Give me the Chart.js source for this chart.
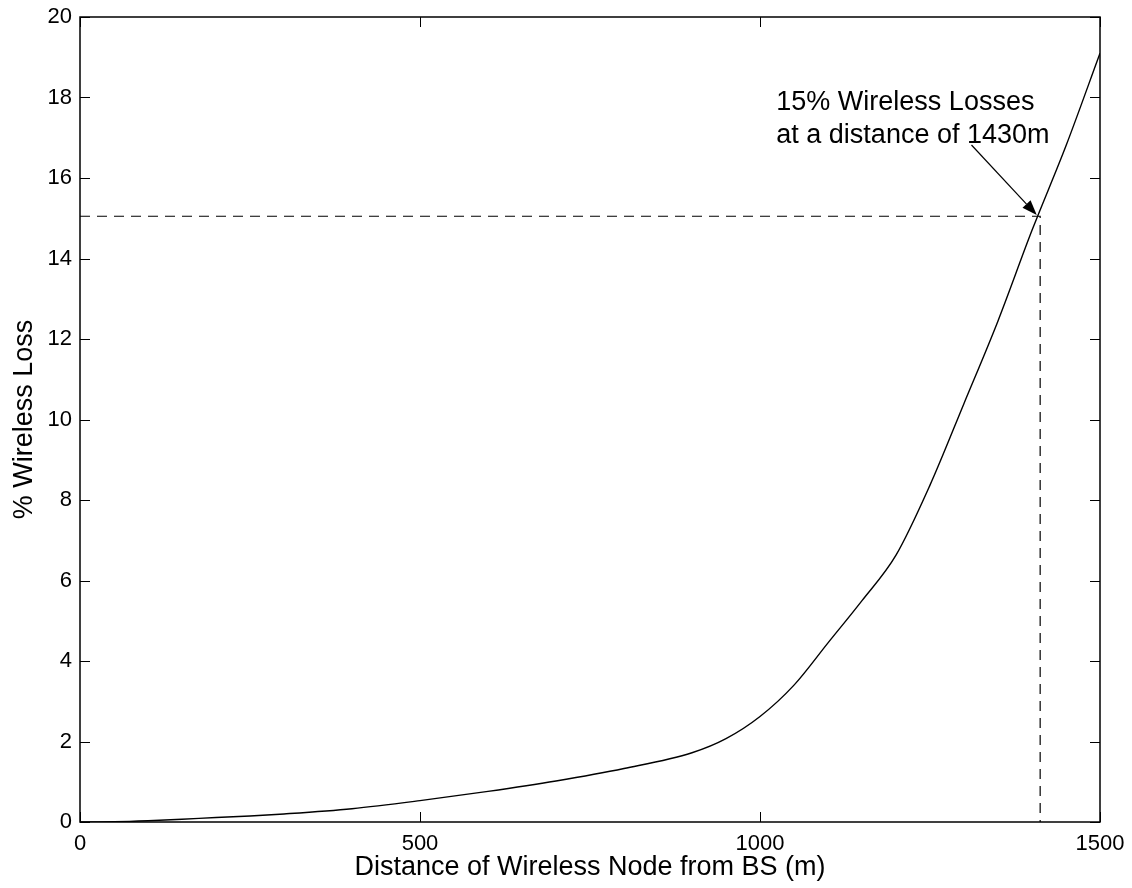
<!DOCTYPE html>
<html>
<head>
<meta charset="utf-8">
<script src="https://cdn.jsdelivr.net/npm/chart.js@4/dist/chart.umd.min.js"></script>
<style>
  html, body { margin: 0; padding: 0; background: #fff; }
  canvas { display: block; }
</style>
</head>
<body>
<canvas id="lossChart" width="1132" height="888"></canvas>
<script>
// distance from base station (m) and % wireless loss
const distance = [0, 50, 100, 150, 200, 250, 300, 400, 500, 600, 700, 800, 900, 950,
  1000, 1050, 1100, 1150, 1200, 1250, 1300, 1350, 1400, 1450, 1500];
const lossPct = [0, 0.005, 0.03, 0.07, 0.11, 0.15, 0.2, 0.33, 0.53, 0.76, 1.02, 1.33, 1.72, 2.07,
  2.62, 3.4, 4.45, 5.5, 6.63, 8.37, 10.4, 12.45, 14.7, 16.8, 19.1];

// dashed guide to the 15% point
const guideX = [0, 1412, 1412];
const guideY = [15.05, 15.05, 0];

const xTicks = [0, 500, 1000, 1500];
const yTicks = [0, 2, 4, 6, 8, 10, 12, 14, 16, 18, 20];

const noteLines = ["15% Wireless Losses", "at a distance of 1430m"];
const noteAt = { x: 1024, y1: 17.7, y2: 16.87 };
const arrowFrom = { x: 1311, y: 16.82 };
const arrowTo = { x: 1407, y: 15.08 };

const FONT = '"Liberation Sans", Arial, Helvetica, sans-serif';

const toPoints = (xs, ys) => xs.map((x, i) => ({ x: x, y: ys[i] }));

const matlabBox = {
  id: "matlabBox",
  afterDatasetsDraw(chart) {
    const { ctx, chartArea: a, scales } = chart;
    const tick = 10;
    ctx.save();
    ctx.strokeStyle = "#000";
    ctx.lineWidth = 1.5;
    ctx.strokeRect(a.left, a.top, a.right - a.left, a.bottom - a.top);
    ctx.lineWidth = 1;
    ctx.beginPath();
    xTicks.forEach((v) => {
      const px = Math.round(scales.x.getPixelForValue(v)) + 0.5;
      ctx.moveTo(px, a.bottom); ctx.lineTo(px, a.bottom - tick);
      ctx.moveTo(px, a.top); ctx.lineTo(px, a.top + tick);
    });
    yTicks.forEach((v) => {
      const py = Math.round(scales.y.getPixelForValue(v)) + 0.5;
      ctx.moveTo(a.left, py); ctx.lineTo(a.left + tick, py);
      ctx.moveTo(a.right, py); ctx.lineTo(a.right - tick, py);
    });
    ctx.stroke();

    // annotation text
    ctx.fillStyle = "#000";
    ctx.font = "27px " + FONT;
    ctx.textAlign = "left";
    ctx.textBaseline = "alphabetic";
    const tx = scales.x.getPixelForValue(noteAt.x);
    ctx.fillText(noteLines[0], tx, scales.y.getPixelForValue(noteAt.y1));
    ctx.fillText(noteLines[1], tx, scales.y.getPixelForValue(noteAt.y2));

    // arrow
    const x0 = scales.x.getPixelForValue(arrowFrom.x);
    const y0 = scales.y.getPixelForValue(arrowFrom.y);
    const x1 = scales.x.getPixelForValue(arrowTo.x);
    const y1 = scales.y.getPixelForValue(arrowTo.y);
    const ang = Math.atan2(y1 - y0, x1 - x0);
    const headLen = 15, headW = 5.5;
    ctx.lineWidth = 1.2;
    ctx.beginPath();
    ctx.moveTo(x0, y0);
    ctx.lineTo(x1 - headLen * Math.cos(ang), y1 - headLen * Math.sin(ang));
    ctx.stroke();
    ctx.beginPath();
    ctx.moveTo(x1, y1);
    ctx.lineTo(x1 - headLen * Math.cos(ang) + headW * Math.sin(ang),
               y1 - headLen * Math.sin(ang) - headW * Math.cos(ang));
    ctx.lineTo(x1 - headLen * Math.cos(ang) - headW * Math.sin(ang),
               y1 - headLen * Math.sin(ang) + headW * Math.cos(ang));
    ctx.closePath();
    ctx.fill();
    ctx.restore();
  },
};

const chart = new Chart(document.getElementById("lossChart").getContext("2d"), {
  type: "line",
  data: {
    datasets: [
      {
        data: toPoints(distance, lossPct),
        borderColor: "#000",
        borderWidth: 1.4,
        pointRadius: 0,
        cubicInterpolationMode: "monotone",
        fill: false,
      },
      {
        data: toPoints(guideX, guideY),
        borderColor: "#000",
        borderWidth: 1.2,
        borderDash: [10, 7],
        pointRadius: 0,
        tension: 0,
        fill: false,
      },
    ],
  },
  options: {
    responsive: false,
    animation: false,
    events: [],
    layout: { padding: { top: 17, right: 32, left: 0, bottom: 0 } },
    plugins: { legend: { display: false }, tooltip: { enabled: false } },
    scales: {
      x: {
        type: "linear",
        min: 0,
        max: 1500,
        afterBuildTicks: (scale) => { scale.ticks = xTicks.map((v) => ({ value: v })); },
        afterFit: (scale) => {
          scale.height = 66;
          scale.paddingLeft = 0;
          scale.paddingRight = 0;
        },
        grid: { display: false, drawTicks: false },
        border: { display: false },
        ticks: {
          color: "#000",
          padding: 9,
          maxRotation: 0,
          font: { family: FONT, size: 22 },
          callback: (v) => String(v),
        },
        title: {
          display: true,
          text: "Distance of Wireless Node from BS (m)",
          color: "#000",
          padding: { top: 0, bottom: 4 },
          font: { family: FONT, size: 27 },
        },
      },
      y: {
        type: "linear",
        min: 0,
        max: 20,
        afterBuildTicks: (scale) => { scale.ticks = yTicks.map((v) => ({ value: v })); },
        afterFit: (scale) => {
          scale.width = 80;
          scale.paddingTop = 0;
          scale.paddingBottom = 0;
        },
        grid: { display: false, drawTicks: false },
        border: { display: false },
        ticks: {
          color: "#000",
          padding: 8,
          font: { family: FONT, size: 22 },
          callback: (v) => String(v),
        },
        title: {
          display: true,
          text: "% Wireless Loss",
          color: "#000",
          padding: { top: 8, bottom: 0 },
          font: { family: FONT, size: 27 },
        },
      },
    },
  },
  plugins: [matlabBox],
});
</script>
</body>
</html>
